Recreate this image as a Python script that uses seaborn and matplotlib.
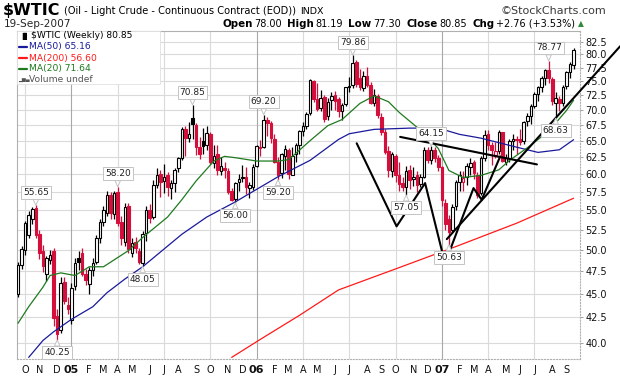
import numpy as np
import pandas as pd
import matplotlib
matplotlib.use('Agg')
import matplotlib.pyplot as plt
import matplotlib.ticker as mticker
from matplotlib.patches import Rectangle
import seaborn as sns

# weekly bars (Monday of each week), last bar = week of 17-Sep-2007
weeks = pd.date_range('2004-09-20', periods=157, freq='W-MON')
as_of = '19-Sep-2007'

opens = [
    45.0, 48.2, 50.0, 51.8, 53.8, 55.3, 51.9, 49.8, 47.2, 48.8, 49.8, 42.6, 41.2, 46.3, 43.8,
    42.2, 45.8, 49.0, 49.6, 47.2, 46.0, 47.6, 48.6, 51.4, 53.4, 54.6, 57.0, 54.5, 57.5, 53.5, 51.0,
    55.5, 49.6, 51.0, 49.8, 48.4, 52.0, 55.0, 54.1, 58.5, 60.0, 59.0, 59.9, 58.0, 58.7, 60.8, 62.4,
    66.9, 65.4, 68.6, 67.5, 64.0, 64.9, 64.3, 66.0, 61.6, 62.9, 60.4, 60.9, 60.4, 57.6, 56.5, 58.8,
    59.5, 59.6, 58.0, 58.2,
    61.2, 64.1, 64.0, 68.3, 67.9, 65.2, 61.8, 60.2, 62.7, 63.5, 59.9, 62.9, 64.3, 66.5, 67.3, 69.4,
    75.0, 71.9, 70.4, 72.2, 68.9, 71.7, 72.5, 71.8, 69.8, 71.0, 73.9, 74.3, 78.6, 75.6, 73.8, 76.0,
    74.4, 71.1, 72.4, 68.8, 66.3, 63.4, 60.5, 62.7, 59.9, 58.7, 58.1, 60.6, 59.3, 59.8, 58.6, 59.6,
    63.6, 62.0, 63.6, 62.4,
    61.0, 56.0, 53.9, 52.4, 55.5, 58.9, 58.9, 59.5, 61.0, 61.7, 59.8, 57.3, 62.3, 66.0, 64.4, 62.8,
    63.4, 66.3, 61.8, 62.4, 65.0, 65.3, 65.2, 64.9, 68.1, 68.9, 70.7, 72.8, 74.0, 75.5, 77.0, 75.4,
    71.2, 71.9, 71.1, 74.1, 76.7, 78.00,
]
highs = [
    48.6, 50.5, 53.6, 54.9, 55.4, 55.65, 52.4, 50.6, 49.3, 50.0, 50.2, 43.4, 46.8, 46.8, 44.6,
    46.2, 49.0, 49.8, 50.2, 47.8, 48.0, 49.0, 51.8, 53.8, 55.6, 57.6, 57.5, 57.6, 58.20, 54.2, 56.0,
    56.0, 51.4, 51.6, 50.2, 52.3, 55.6, 55.8, 59.2, 60.9, 60.6, 61.4, 60.3, 59.2, 60.8, 62.5, 67.1,
    67.3, 68.0, 70.85, 67.8, 65.6, 67.0, 67.4, 66.3, 64.3, 64.3, 62.5, 61.8, 60.9, 58.0, 58.9, 60.0,
    61.3, 61.0, 58.9, 61.4,
    64.4, 65.1, 69.20, 68.8, 68.2, 66.0, 62.5, 63.1, 64.3, 63.8, 64.0, 64.6, 66.7, 68.0, 69.6, 75.4,
    75.2, 74.6, 73.4, 72.6, 72.0, 73.0, 73.3, 72.2, 71.2, 74.0, 75.8, 79.86, 78.9, 77.3, 76.8, 77.6,
    74.9, 73.6, 72.8, 69.4, 66.8, 64.2, 63.2, 62.9, 61.7, 59.6, 61.2, 61.3, 61.0, 60.5, 60.0, 64.0,
    64.0, 64.15, 64.0, 62.8,
    61.2, 56.5, 54.3, 55.8, 59.2, 60.4, 60.5, 61.6, 62.3, 62.0, 60.3, 62.6, 66.7, 66.7, 64.8, 64.8,
    66.7, 66.4, 63.0, 65.2, 66.0, 65.8, 66.9, 68.2, 69.4, 71.0, 73.0, 74.2, 76.0, 77.2, 78.77, 75.8,
    73.0, 72.3, 74.3, 76.9, 78.6, 81.19,
]
lows = [
    44.6, 47.8, 49.4, 51.4, 53.2, 51.4, 48.9, 47.4, 46.4, 48.3, 41.6, 40.25, 40.9, 43.9, 42.8,
    41.8, 45.4, 47.6, 46.9, 45.9, 45.0, 47.0, 48.3, 50.8, 52.9, 54.2, 53.8, 53.9, 53.0, 50.6, 50.4,
    49.6, 49.2, 49.6, 48.3, 48.05, 51.1, 53.3, 53.8, 58.0, 56.8, 57.3, 56.9, 56.5, 57.5, 60.3, 62.0,
    62.7, 64.8, 65.2, 62.8, 62.2, 62.9, 63.6, 61.5, 60.8, 59.8, 59.8, 59.4, 57.2, 56.2, 56.00, 57.6,
    58.9, 57.2, 56.6, 57.8,
    61.0, 62.6, 63.8, 65.8, 64.6, 61.6, 59.20, 59.4, 60.6, 59.3, 59.8, 61.8, 62.9, 65.7, 66.8, 69.1,
    71.3, 69.8, 69.8, 68.0, 68.3, 70.0, 70.0, 68.8, 68.4, 70.6, 73.0, 73.8, 73.9, 73.4, 73.3, 73.9,
    71.0, 70.7, 68.6, 65.9, 63.0, 59.5, 59.6, 58.9, 57.6, 57.6, 57.05, 57.9, 58.3, 57.4, 58.2, 59.4,
    61.6, 61.5, 61.8, 60.5,
    55.6, 52.5, 50.63, 52.0, 55.0, 57.6, 57.6, 58.5, 59.8, 59.3, 56.6, 57.0, 61.9, 63.5, 61.3, 62.3,
    63.0, 61.8, 61.3, 61.8, 63.6, 63.0, 64.3, 64.5, 67.3, 67.6, 70.3, 71.6, 73.1, 74.3, 74.7, 70.8,
    68.63, 69.8, 70.7, 73.6, 75.6, 77.30,
]
closes = [
    48.2, 50.1, 53.3, 54.3, 55.2, 51.8, 49.6, 48.1, 49.0, 49.4, 42.4, 40.8, 46.2, 44.2, 43.4,
    45.6, 48.4, 48.6, 47.2, 46.5, 47.6, 48.4, 51.5, 53.4, 55.0, 57.0, 54.6, 57.3, 53.3, 51.4, 55.4,
    50.1, 50.8, 50.2, 48.5, 51.9, 55.0, 54.0, 58.5, 59.8, 58.8, 59.6, 58.1, 58.7, 60.6, 62.3, 66.9,
    65.4, 66.1, 67.6, 64.1, 63.0, 64.2, 66.2, 61.8, 62.6, 60.6, 61.1, 60.6, 57.5, 56.4, 58.7, 59.3,
    59.4, 58.1, 58.4, 61.0,
    64.2, 63.9, 68.4, 67.8, 65.4, 61.8, 59.9, 62.9, 63.7, 60.0, 62.7, 64.3, 66.6, 67.4, 69.3, 75.2,
    71.9, 70.2, 72.0, 68.5, 71.4, 72.3, 71.6, 69.9, 70.9, 73.9, 74.1, 78.4, 74.5, 74.0, 75.9, 74.4,
    71.1, 72.5, 69.2, 66.3, 63.3, 60.6, 62.9, 59.8, 58.6, 58.2, 60.4, 59.1, 59.6, 58.4, 59.5, 63.5,
    62.0, 63.5, 62.4, 61.0,
    56.3, 53.2, 52.2, 55.4, 58.9, 59.9, 59.4, 61.1, 61.6, 60.1, 57.1, 62.3, 65.9, 64.3, 63.6, 63.4,
    66.4, 61.9, 62.4, 64.9, 65.2, 65.1, 64.8, 68.0, 68.9, 70.7, 72.8, 73.9, 75.6, 77.0, 75.5, 71.5,
    72.0, 71.1, 74.0, 76.7, 78.09, 80.85,
]

# moving averages at sample weeks (week index)
ma20_wk = [0, 3, 7, 9, 12, 16, 20, 24, 31, 35, 42, 46, 50, 55, 58, 61, 67, 73, 76, 82,
           87, 91, 96, 100, 104, 107, 114, 118, 121, 125, 130, 135, 138, 143, 149, 154, 156]
ma20_val = [41.9, 43.6, 45.7, 47.0, 47.3, 47.0, 48.0, 48.0, 49.9, 51.5, 54.1, 56.4, 59.0, 61.9,
            62.6, 62.4, 61.9, 61.9, 62.1, 65.0, 67.4, 68.4, 71.1, 72.4, 71.4, 69.6, 66.2, 63.8,
            60.5, 59.5, 59.8, 60.6, 62.0, 63.9, 66.5, 69.9, 71.64]
ma50_wk = [3, 7, 10, 15, 21, 25, 30, 35, 46, 53, 61, 73, 82, 90, 93, 100, 110, 118, 124, 130,
           140, 146, 152, 156]
ma50_val = [38.6, 40.2, 41.05, 42.3, 43.6, 45.1, 46.6, 48.0, 51.9, 54.1, 56.1, 59.6, 62.0, 65.2,
            66.1, 66.8, 67.0, 67.0, 66.0, 65.4, 64.0, 63.2, 63.6, 65.16]
ma200_wk = [60, 68, 79, 90, 107, 123, 140, 156]
ma200_val = [38.6, 40.3, 42.7, 45.4, 47.9, 50.4, 53.3, 56.6]

# weeks carrying a price label
peak_wk = [5, 28, 49, 69, 94, 116, 149]
trough_wk = [11, 35, 61, 73, 109, 121, 151]

# hand-drawn annotation lines (week index, price)
wpat_wk = [95.1, 106.3, 114.3, 119.9, 127.9, 130.2, 135.4]
wpat_px = [64.6, 52.9, 58.7, 48.4, 58.0, 56.4, 62.6]
neck_wk = [107.3, 145.7]
neck_px = [65.6, 61.4]
trend_wk = [120.4, 169.1]
trend_px = [51.3, 81.6]

ytick_vals = np.arange(40, 83, 2.5)

RED = '#d40f3c'
MA_COLORS = {'MA(50)': '#1a1a9c', 'MA(200)': '#ff1a1a', 'MA(20)': '#1f7a1f'}

df = pd.DataFrame({'wk': np.arange(len(weeks)), 'open': opens, 'high': highs,
                   'low': lows, 'close': closes})
prev = df['close'].shift(1).fillna(df['open'])
df['col'] = np.where(df['close'] < prev, RED, 'black')
df['face'] = np.where(df['close'] > df['open'], 'white', df['col'])
body_lo = df[['open', 'close']].min(axis=1)
body_h = (df[['open', 'close']].max(axis=1) - body_lo).clip(lower=0.08)

sns.set_style('white')
plt.rcParams['font.family'] = ['DejaVu Sans']

W, H = 620, 376
fx = lambda px: px / W
fy = lambda py: 1 - py / H

fig = plt.figure(figsize=(6.2, 3.76), dpi=100)
ax = fig.add_axes([fx(16.5), fy(359), fx(580) - fx(16.5), fy(31) - fy(359)])
ax.set_yscale('log')

# grid: horizontal every 2.5, vertical at quarters
month_starts = pd.date_range('2004-10-01', '2007-09-01', freq='MS')
tick_wk = np.searchsorted(weeks.values, month_starts.values)
tick_lbl = [d.strftime('%y') if d.month == 1 else d.strftime('%b')[0] for d in month_starts]
for v in ytick_vals:
    ax.axhline(v, color='#dadada', lw=0.8, zorder=0)
for d, p in zip(month_starts, tick_wk):
    if d.month in (1, 4, 7, 10):
        ax.axvline(p, color='#a8a8a8' if d.month == 1 else '#dadada', lw=0.8, zorder=0)

# candles
ax.vlines(df['wk'], df['low'], df['high'], colors=df['col'], lw=0.9, zorder=3)
ax.bar(df['wk'], body_h, bottom=body_lo, width=0.72, color=df['face'],
       edgecolor=df['col'], linewidth=0.8, zorder=4)

# moving averages
ma = pd.concat([
    pd.DataFrame({'wk': ma50_wk, 'val': ma50_val, 'line': 'MA(50)'}),
    pd.DataFrame({'wk': ma200_wk, 'val': ma200_val, 'line': 'MA(200)'}),
    pd.DataFrame({'wk': ma20_wk, 'val': ma20_val, 'line': 'MA(20)'}),
])
sns.lineplot(data=ma, x='wk', y='val', hue='line', palette=MA_COLORS, lw=0.9,
             legend=False, ax=ax, zorder=5, estimator=None)

# chartist's pattern lines
for xs, ys, clip in [(wpat_wk, wpat_px, True), (neck_wk, neck_px, True),
                     (trend_wk, trend_px, False)]:
    sns.lineplot(x=xs, y=ys, color='black', lw=1.5, ax=ax, zorder=7,
                 estimator=None, sort=False, clip_on=clip)

# price labels
box = dict(boxstyle='square,pad=0.22', fc='white', ec='#c4c4c4', lw=0.7)
arrow = dict(arrowstyle='wedge,tail_width=0.6,shrink_factor=0.5', fc='white',
             ec='#c4c4c4', lw=0.7, shrinkA=0, shrinkB=0)
for i in peak_wk:
    ax.annotate(f'{highs[i]:.2f}', xy=(i, highs[i]), xytext=(0, 6), textcoords='offset points',
                ha='center', va='bottom', fontsize=6.5, color='#222222', bbox=box,
                arrowprops=arrow, zorder=8, annotation_clip=False)
for i in trough_wk:
    ax.annotate(f'{lows[i]:.2f}', xy=(i, lows[i]), xytext=(0, -6), textcoords='offset points',
                ha='center', va='top', fontsize=6.5, color='#222222', bbox=box,
                arrowprops=arrow, zorder=8, annotation_clip=False)

ax.set_xlim(-0.42, 157.8)
ax.set_ylim(38.45, 84.63)
ax.set_xlabel('')
ax.set_ylabel('')

ax.yaxis.tick_right()
ax.yaxis.set_major_locator(mticker.FixedLocator(ytick_vals))
ax.yaxis.set_major_formatter(mticker.FormatStrFormatter('%.1f'))
ax.yaxis.set_minor_locator(mticker.NullLocator())
ax.set_xticks(tick_wk)
ax.set_xticklabels(tick_lbl)
ax.tick_params(axis='y', which='major', right=True, length=2, width=0.6, pad=2,
               labelsize=7, color='#909090', labelcolor='#111111')
ax.tick_params(axis='x', length=2, width=0.6, pad=2, labelsize=7, color='#909090',
               labelcolor='#111111')
for lab, d in zip(ax.get_xticklabels(), month_starts):
    if d.month == 1:
        lab.set_fontweight('bold')
        lab.set_fontsize(8)
for side, sp in ax.spines.items():
    sp.set_color('#b0b0b0')
    sp.set_linewidth(0.8)
ax.spines['right'].set_linestyle(':')
ax.spines['bottom'].set_linestyle(':')

# legend block
fig.add_artist(Rectangle((fx(17), fy(84)), fx(160) - fx(17), fy(31) - fy(84),
                         transform=fig.transFigure, fc='white', ec='#e0e0e0', lw=0.6,
                         zorder=6))
leg_rows = [
    (f'\\$WTIC (Weekly) {closes[-1]:.2f}', 'black', 36),
    (f'MA(50) {ma50_val[-1]:.2f}', MA_COLORS['MA(50)'], 47),
    (f'MA(200) {ma200_val[-1]:.2f}', MA_COLORS['MA(200)'], 58),
    (f'MA(20) {ma20_val[-1]:.2f}', MA_COLORS['MA(20)'], 69),
    ('Volume undef', '#555555', 79),
]
for k, (txt, c, yy) in enumerate(leg_rows):
    x0 = 31 if k == 0 else 29
    fig.text(fx(x0), fy(yy), txt, color=c, fontsize=6.6, va='center', ha='left', zorder=7)
    if 1 <= k <= 3:
        fig.add_artist(plt.Line2D([fx(19), fx(27)], [fy(yy), fy(yy)], color=c, lw=1.6,
                                  transform=fig.transFigure, zorder=7))
fig.text(fx(19), fy(36), '\u2590\u258c', fontsize=5, color='black', va='center', zorder=7)
fig.text(fx(18.5), fy(79), '\u2582\u2586\u2584', fontsize=3.6, color='#555555',
         va='center', zorder=7)

# header
renderer = fig.canvas.get_renderer()


def place_row(x, y, pieces):
    for txt, size, weight, color, gap in pieces:
        t = fig.text(fx(x), fy(y), txt, fontsize=size, fontweight=weight, color=color,
                     va='center', ha='left')
        x = t.get_window_extent(renderer=renderer).x1 + gap


place_row(3, 11, [
    ('\\$WTIC', 11.5, 'bold', 'black', 3),
    ('(Oil - Light Crude - Continuous Contract (EOD))', 7.1, 'normal', 'black', 5),
    ('INDX', 6.8, 'normal', 'black', 0),
])
fig.text(fx(606), fy(11), '\u00a9StockCharts.com', fontsize=8, color='#3a3a3a',
         va='center', ha='right')
fig.text(fx(4), fy(24), as_of, fontsize=7.6, va='center', ha='left')
chg = closes[-1] - closes[-2]
place_row(222, 24, [
    ('Open', 7.4, 'bold', 'black', 2), (f'{opens[-1]:.2f}', 7.0, 'normal', 'black', 5),
    ('High', 7.4, 'bold', 'black', 2), (f'{highs[-1]:.2f}', 7.0, 'normal', 'black', 5),
    ('Low', 7.4, 'bold', 'black', 2), (f'{lows[-1]:.2f}', 7.0, 'normal', 'black', 5),
    ('Close', 7.4, 'bold', 'black', 2), (f'{closes[-1]:.2f}', 7.0, 'normal', 'black', 5),
    ('Chg', 7.4, 'bold', 'black', 2),
    (f'+{chg:.2f} (+{chg / closes[-2] * 100:.2f}%)', 7.0, 'normal', 'black', 3),
    ('\u25b2', 5.5, 'normal', '#2e8b3a', 0),
])

fig.savefig('out.png', dpi=100)
